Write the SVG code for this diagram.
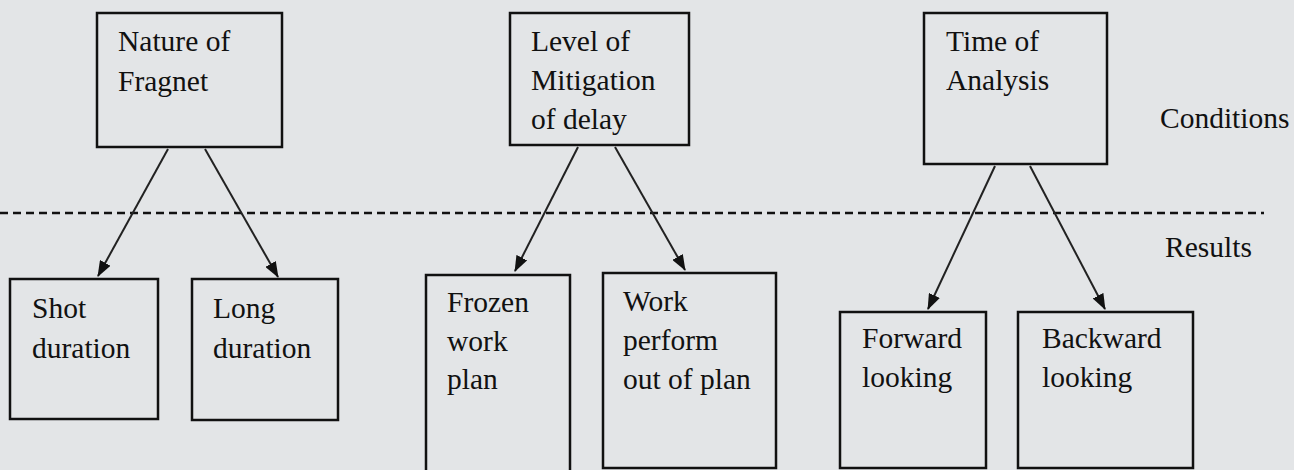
<svg xmlns="http://www.w3.org/2000/svg" width="1294" height="470" viewBox="0 0 1294 470">
<style>
.box{fill:none;stroke:#111;stroke-width:2.5}
.t{font-family:"Liberation Serif","Times New Roman",serif;font-size:29.5px;fill:#111}
.c{stroke:#222;stroke-width:2;fill:none;marker-end:url(#ah)}
.dash{stroke:#111;stroke-width:2.5;stroke-dasharray:8 5;fill:none}
</style>
<defs>
<marker id="ah" markerWidth="16" markerHeight="12" refX="15" refY="6" orient="auto" markerUnits="userSpaceOnUse">
<path d="M0,0 L16,6 L0,12 Z" fill="#111"/>
</marker>
</defs>
<rect width="1294" height="470" fill="#e3e5e7"/>
<g id="connectors">
<line class="dash" x1="0" y1="213" x2="1264" y2="213"/>
<line class="c" x1="168" y1="149" x2="98" y2="276"/>
<line class="c" x1="205" y1="149" x2="278" y2="277"/>
<line class="c" x1="578" y1="147" x2="515" y2="271"/>
<line class="c" x1="615" y1="147" x2="685" y2="270"/>
<line class="c" x1="995" y1="166" x2="928" y2="309"/>
<line class="c" x1="1030" y1="166" x2="1105" y2="309"/>
</g>
<g id="nature">
<rect class="box" x="97" y="13" width="185" height="134"/>
<text class="t" x="118" y="51">Nature of</text>
<text class="t" x="118" y="91">Fragnet</text>
</g>
<g id="level">
<rect class="box" x="510" y="13" width="179" height="132"/>
<text class="t" x="531" y="51">Level of</text>
<text class="t" x="531" y="90">Mitigation</text>
<text class="t" x="531" y="129">of delay</text>
</g>
<g id="time">
<rect class="box" x="924" y="13" width="183" height="151"/>
<text class="t" x="946" y="51">Time of</text>
<text class="t" x="946" y="90">Analysis</text>
</g>
<g id="conditions">
<text class="t" x="1160" y="128">Conditions</text>
</g>
<g id="results">
<text class="t" x="1165" y="257">Results</text>
</g>
<g id="shot">
<rect class="box" x="10" y="279" width="148" height="140"/>
<text class="t" x="32" y="318">Shot</text>
<text class="t" x="32" y="358">duration</text>
</g>
<g id="long">
<rect class="box" x="192" y="279" width="146" height="141"/>
<text class="t" x="213" y="318">Long</text>
<text class="t" x="213" y="358">duration</text>
</g>
<g id="frozen">
<rect class="box" x="426" y="275" width="144" height="200"/>
<text class="t" x="447" y="312">Frozen</text>
<text class="t" x="447" y="351">work</text>
<text class="t" x="447" y="389">plan</text>
</g>
<g id="work">
<rect class="box" x="603" y="273" width="173" height="195"/>
<text class="t" x="623" y="311">Work</text>
<text class="t" x="623" y="350">perform</text>
<text class="t" x="623" y="389">out of plan</text>
</g>
<g id="forward">
<rect class="box" x="840" y="312" width="146" height="156"/>
<text class="t" x="862" y="348">Forward</text>
<text class="t" x="862" y="387">looking</text>
</g>
<g id="backward">
<rect class="box" x="1018" y="312" width="175" height="156"/>
<text class="t" x="1042" y="348">Backward</text>
<text class="t" x="1042" y="387">looking</text>
</g>
</svg>
